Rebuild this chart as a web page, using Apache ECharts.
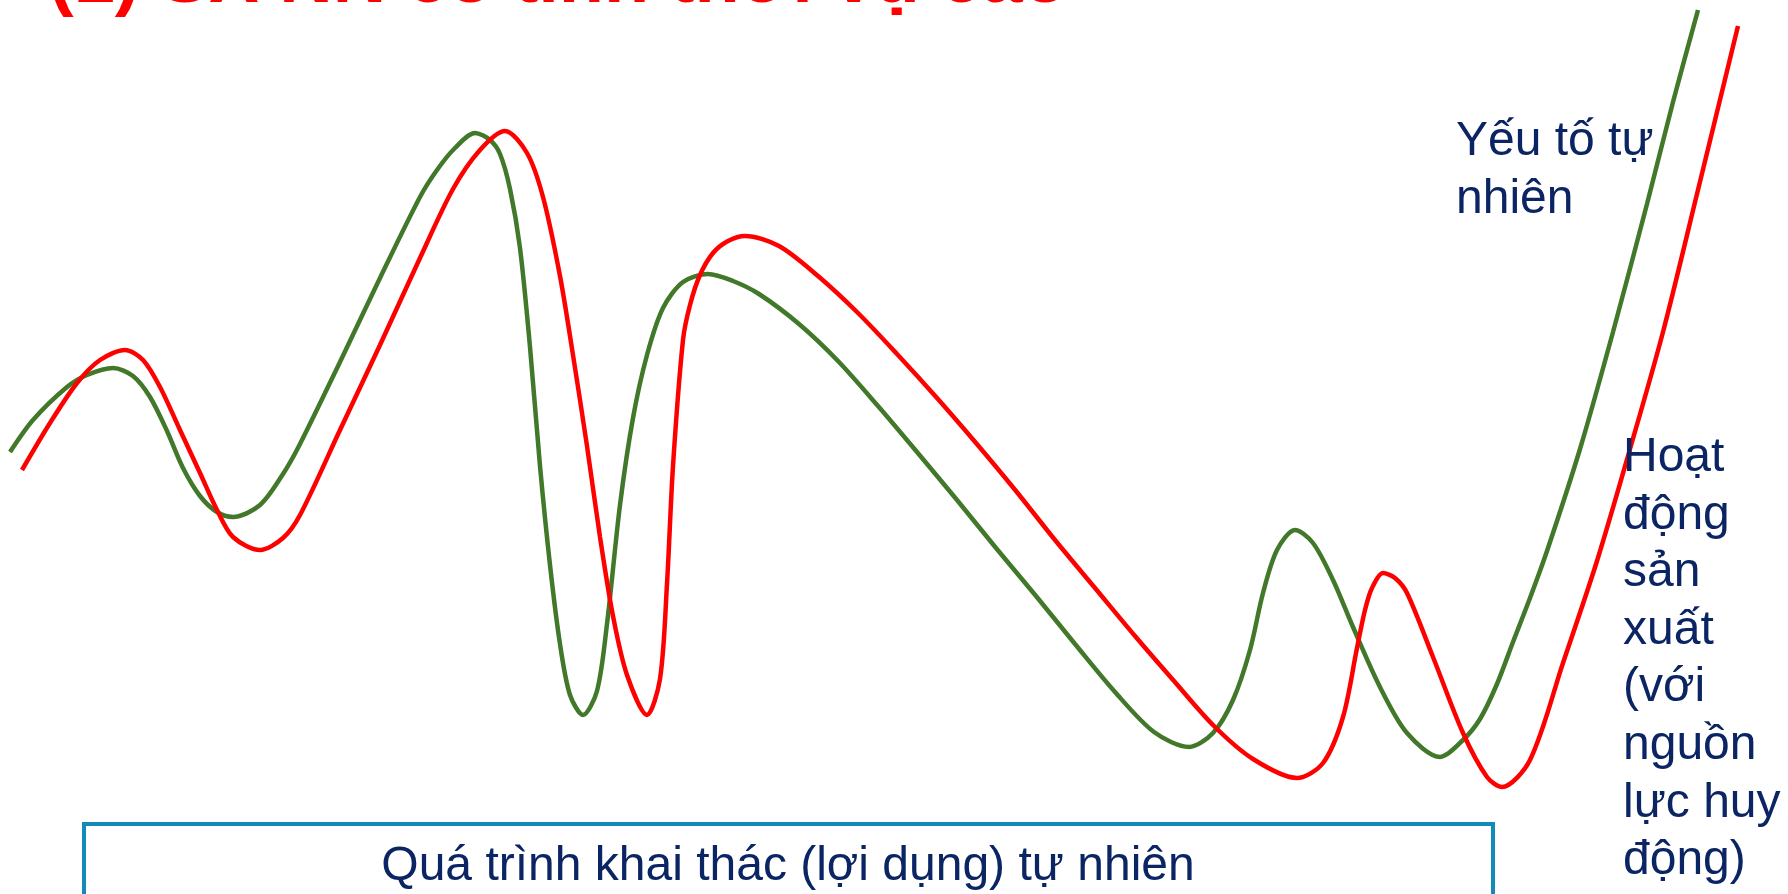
<!DOCTYPE html>
<html>
<head>
<meta charset="utf-8">
<style>
  html, body { margin: 0; padding: 0; background: #fff; }
  #main { width: 1788px; height: 894px; }
</style>
<script src="https://cdn.jsdelivr.net/npm/echarts@6/dist/echarts.min.js"></script>
</head>
<body>
<div id="main"></div>
<script>
var chartDom = document.getElementById('main');
var myChart = echarts.init(chartDom);
var option;

// schematic units: x = progress along the season, y = level (axis is inverted)
var natureCurve = [
  [10, 452], [33, 420], [67, 387], [87, 375], [113, 368], [133, 376], [150, 397],
  [167, 431], [183, 468], [200, 496], [217, 512], [233, 517], [260, 505], [283, 474],
  [300, 444], [340, 362], [380, 278], [420, 197], [437, 170], [455, 148], [475, 133],
  [490, 140], [500, 154], [510, 189], [520, 248], [530, 347], [540, 466], [550, 565],
  [560, 644], [570, 695], [583, 715], [597, 691], [607, 624], [620, 505], [633, 418],
  [647, 355], [663, 308], [683, 282], [708, 274], [733, 281], [759, 294], [799, 324],
  [838, 361], [878, 406], [917, 452], [957, 500], [996, 548], [1036, 596], [1075, 644],
  [1115, 692], [1154, 732], [1189, 747], [1213, 733], [1233, 700], [1250, 650], [1263, 593],
  [1277, 550], [1295, 530], [1313, 543], [1333, 580], [1353, 627], [1380, 687], [1407, 733],
  [1440, 757], [1463, 740], [1480, 719], [1497, 684], [1513, 642], [1530, 598], [1547, 551],
  [1580, 449], [1613, 332], [1647, 204], [1673, 102], [1698, 10]
];

var productionCurve = [
  [22, 470], [50, 423], [77, 383], [100, 360], [125, 350], [143, 360], [160, 387],
  [180, 430], [200, 473], [217, 510], [233, 537], [260, 550], [283, 538], [300, 515],
  [340, 430], [380, 345], [420, 258], [453, 189], [480, 150], [505, 131], [527, 153],
  [543, 197], [560, 276], [573, 355], [587, 446], [600, 537], [613, 616], [627, 675],
  [647, 715], [660, 679], [667, 584], [673, 466], [683, 340], [690, 305], [700, 275],
  [713, 253], [728, 241], [745, 236], [779, 246], [818, 276], [858, 313], [897, 354],
  [937, 398], [976, 443], [1016, 491], [1055, 540], [1095, 588], [1135, 636], [1174, 681],
  [1214, 726], [1253, 759], [1297, 778], [1323, 763], [1343, 717], [1357, 648], [1365, 610],
  [1372, 588], [1383, 573], [1395, 578], [1407, 593], [1433, 657], [1463, 733], [1487, 777],
  [1502, 787], [1530, 760], [1563, 663], [1597, 561], [1630, 449], [1663, 332], [1697, 194],
  [1738, 26]
];

var titleText = '(1) SX NN có tính thời vụ cao';
var natureLabel = 'Yếu tố tự\nnhiên';
var productionLabel = 'Hoạt\nđộng\nsản\nxuất\n(với\nnguồn\nlực huy\nđộng)';
var boxLabel = 'Quá trình khai thác (lợi dụng) tự nhiên';

var fontFamily = '"Liberation Sans", Arial, sans-serif';
var navy = '#0b2463';

option = {
    animation: false,
    backgroundColor: '#ffffff',
    grid: { left: 0, right: 0, top: 0, bottom: 0 },
    xAxis: { type: 'value', min: 0, max: 1788, show: false },
    yAxis: { type: 'value', min: 0, max: 894, inverse: true, show: false },
    graphic: [
        {
            type: 'text', left: 49, top: -55, z: 10,
            style: { text: titleText, fill: '#ff0000', font: 'bold 74px ' + fontFamily }
        },
        {
            type: 'text', x: 1456, y: 113, z: 10,
            style: { text: natureLabel, fill: navy, font: '48px ' + fontFamily, lineHeight: 57.6 }
        },
        {
            type: 'text', x: 1623, y: 429, z: 10,
            style: { text: productionLabel, fill: navy, font: '48px ' + fontFamily, lineHeight: 57.6 }
        },
        {
            type: 'rect', z: 5,
            shape: { x: 84, y: 824, width: 1409, height: 140 },
            style: { fill: '#ffffff', stroke: '#138bb9', lineWidth: 4 }
        },
        {
            type: 'text', x: 788, y: 867, z: 10,
            style: { text: boxLabel, fill: navy, font: '48px ' + fontFamily, align: 'center', verticalAlign: 'middle' }
        }
    ],
    series: [
        {
            name: 'Yếu tố tự nhiên',
            type: 'line',
            data: natureCurve,
            smooth: 0.3,
            showSymbol: false,
            lineStyle: { color: '#41782a', width: 4.5 }
        },
        {
            name: 'Hoạt động sản xuất',
            type: 'line',
            data: productionCurve,
            smooth: 0.3,
            showSymbol: false,
            lineStyle: { color: '#ff0000', width: 4.5 }
        }
    ]
};

option && myChart.setOption(option);
</script>
</body>
</html>
